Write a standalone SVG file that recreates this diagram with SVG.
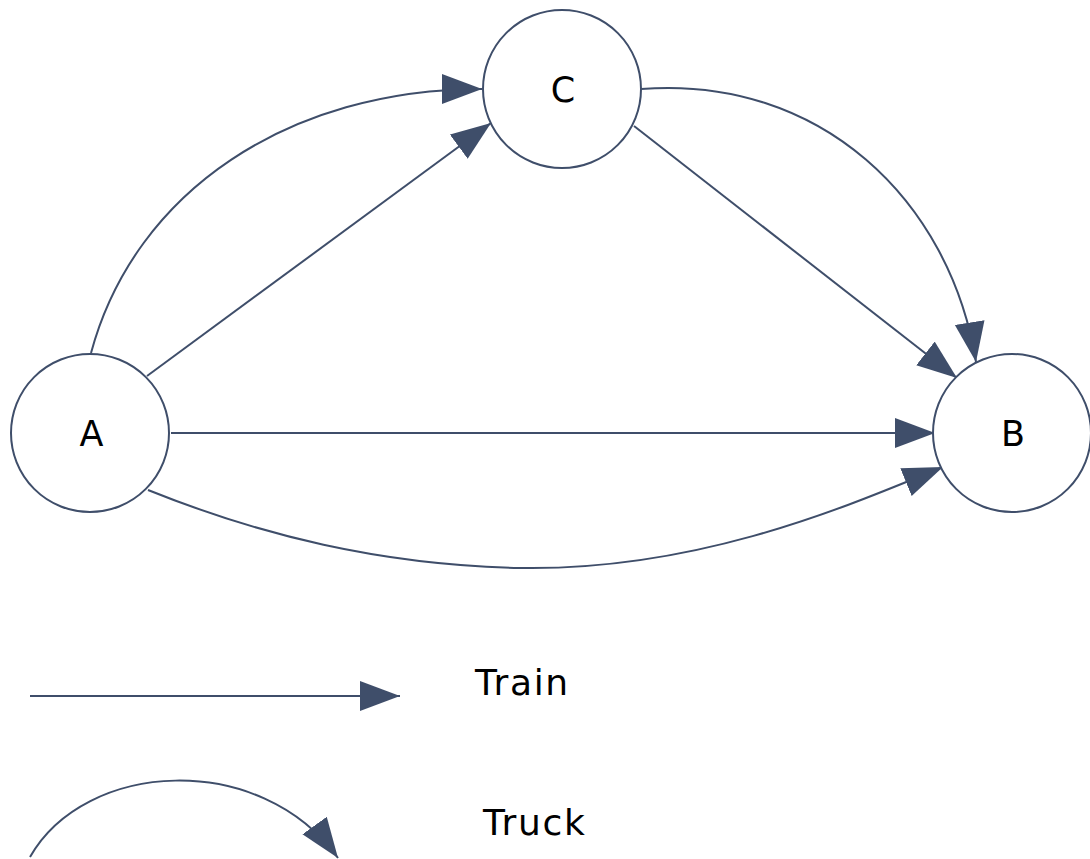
<svg xmlns="http://www.w3.org/2000/svg" width="1090" height="859" viewBox="0 0 1090 859">
  <style>
    .node circle { fill: #ffffff; stroke: #3f4e6a; stroke-width: 2; }
    .node text { font-family: "DejaVu Sans", Verdana, sans-serif; font-size: 35px; fill: #000000; text-anchor: middle; }
    .label { font-family: "DejaVu Sans", Verdana, sans-serif; font-size: 36px; letter-spacing: 1.7px; fill: #000000; }
    .edge { fill: none; stroke: #3f4e6a; stroke-width: 2; marker-end: url(#arrow); }
  </style>
  <defs>
    <marker id="arrow" markerUnits="userSpaceOnUse" markerWidth="42" markerHeight="32" viewBox="0 0 42 32" refX="40" refY="15" orient="auto">
      <path d="M0,0 L40,15 L0,30 Z" fill="#3f4e6a"/>
    </marker>
  </defs>

  <!-- connectors -->
  <g id="connectors">
    <!-- truck routes -->
    <path class="edge" d="M91,353 C135,190 290,89 482,89"/>
    <path class="edge" d="M641,89 C820,75 950,200 976,362"/>
    <path class="edge" d="M148,490 C260,535 380,565 520,568 C700,571 850,505 943,467"/>
    <!-- train routes -->
    <path class="edge" d="M147,376 L491,123"/>
    <path class="edge" d="M634,126 L957,378"/>
    <path class="edge" d="M171,433 L935,433"/>
  </g>

  <!-- nodes -->
  <g id="node-A" class="node">
    <circle cx="90" cy="433" r="79"/>
    <text x="91.5" y="446">A</text>
  </g>
  <g id="node-C" class="node">
    <circle cx="562" cy="89" r="79"/>
    <text x="563" y="102">C</text>
  </g>
  <g id="node-B" class="node">
    <circle cx="1012" cy="433" r="79"/>
    <text x="1013" y="446">B</text>
  </g>

  <!-- legend -->
  <g id="legend">
    <path class="edge" d="M30,696 L400,696"/>
    <text class="label" x="475" y="695">Train</text>
    <path class="edge" d="M30,857 C85,760 260,750 338,858"/>
    <text class="label" x="483" y="835">Truck</text>
  </g>
</svg>
